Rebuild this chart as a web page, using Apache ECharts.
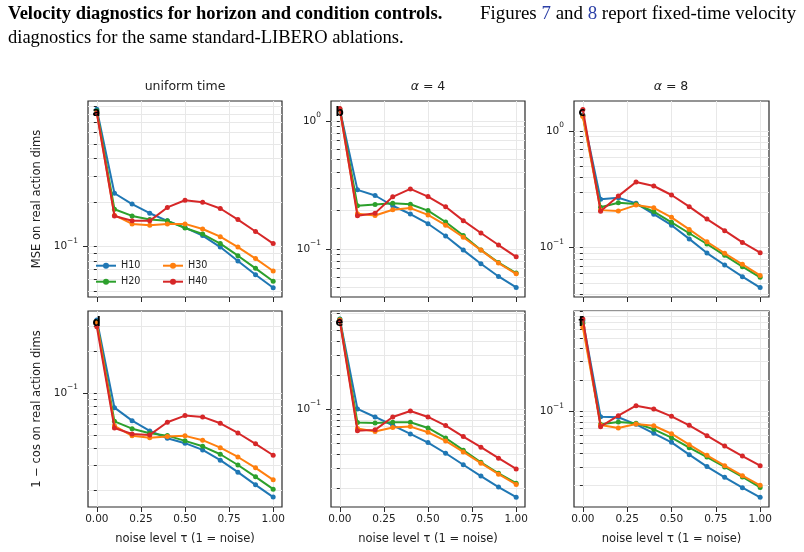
<!DOCTYPE html>
<html>
<head>
<meta charset="utf-8">
<script src="https://cdn.jsdelivr.net/npm/echarts@6/dist/echarts.min.js"></script>
<style>
html, body { margin: 0; padding: 0; background: #fff; }
#chart { width: 804px; height: 552px; }
</style>
</head>
<body>
<div id="chart"></div>
<script>
// noise level on the x axis
var tau = [0, 0.1, 0.2, 0.3, 0.4, 0.5, 0.6, 0.7, 0.8, 0.9, 1.0];
var horizons = ['H10', 'H20', 'H30', 'H40'];
var xTicks = [0, 0.25, 0.5, 0.75, 1];
var yMajor = [0.01, 0.1, 1];
var yMinor = [0.02, 0.03, 0.04, 0.05, 0.06, 0.07, 0.08, 0.09,
              0.2, 0.3, 0.4, 0.5, 0.6, 0.7, 0.8, 0.9, 2, 3];
var colTitles = ['uniform time', '{i|α} = 4', '{i|α} = 8'];
var rowNames = ['MSE on real action dims', '1 \u2212 cos on real action dims'];
var letters = ['a', 'b', 'c', 'd', 'e', 'f'];

// a: MSE, uniform time
var aH10 = [0.86, 0.231, 0.195, 0.169, 0.150, 0.135, 0.119, 0.0995, 0.080, 0.0645, 0.0526];
var aH20 = [0.84, 0.180, 0.162, 0.153, 0.150, 0.134, 0.122, 0.105, 0.0869, 0.0713, 0.0582];
var aH30 = [0.82, 0.164, 0.143, 0.140, 0.143, 0.143, 0.132, 0.117, 0.0995, 0.083, 0.0684];
var aH40 = [0.81, 0.162, 0.150, 0.150, 0.185, 0.207, 0.201, 0.182, 0.153, 0.127, 0.105];
// b: MSE, alpha = 4
var bH10 = [1.23, 0.289, 0.261, 0.217, 0.187, 0.157, 0.126, 0.0977, 0.0764, 0.0608, 0.0499];
var bH20 = [1.24, 0.217, 0.222, 0.227, 0.223, 0.199, 0.162, 0.127, 0.098, 0.078, 0.0646];
var bH30 = [1.22, 0.188, 0.182, 0.202, 0.208, 0.184, 0.153, 0.123, 0.0977, 0.0773, 0.0638];
var bH40 = [1.25, 0.181, 0.190, 0.255, 0.294, 0.256, 0.213, 0.166, 0.133, 0.107, 0.0866];
// c: MSE, alpha = 8
var cH10 = [1.37, 0.260, 0.268, 0.240, 0.194, 0.156, 0.119, 0.090, 0.0711, 0.0565, 0.0455];
var cH20 = [1.35, 0.222, 0.243, 0.237, 0.204, 0.165, 0.133, 0.1076, 0.086, 0.0687, 0.0557];
var cH30 = [1.33, 0.210, 0.206, 0.232, 0.220, 0.182, 0.1436, 0.1125, 0.0895, 0.0720, 0.0579];
var cH40 = [1.53, 0.205, 0.277, 0.366, 0.338, 0.283, 0.225, 0.176, 0.140, 0.111, 0.0906];
// d: 1 - cos, uniform time
var dH10 = [0.335, 0.0784, 0.0632, 0.0533, 0.0472, 0.0435, 0.0389, 0.0328, 0.0269, 0.0218, 0.0178];
var dH20 = [0.324, 0.0625, 0.0553, 0.0513, 0.0493, 0.0452, 0.0413, 0.0362, 0.0303, 0.0249, 0.0203];
var dH30 = [0.321, 0.058, 0.0491, 0.0475, 0.0485, 0.0491, 0.0457, 0.0404, 0.0346, 0.0289, 0.0237];
var dH40 = [0.300, 0.056, 0.0507, 0.0499, 0.0615, 0.0687, 0.0672, 0.0605, 0.0515, 0.043, 0.0356];
// e: 1 - cos, alpha = 4
var eH10 = [0.622, 0.100, 0.0849, 0.0717, 0.0601, 0.0504, 0.0406, 0.0321, 0.0255, 0.0204, 0.0166];
var eH20 = [0.620, 0.0757, 0.0752, 0.0762, 0.0762, 0.0679, 0.0554, 0.0432, 0.0338, 0.027, 0.0221];
var eH30 = [0.610, 0.067, 0.0631, 0.0684, 0.0698, 0.0622, 0.0522, 0.0417, 0.0332, 0.0265, 0.0215];
var eH40 = [0.601, 0.064, 0.0653, 0.0849, 0.096, 0.0849, 0.0713, 0.0570, 0.0459, 0.0367, 0.0295];
// f: 1 - cos, alpha = 8
var fH10 = [0.731, 0.0897, 0.0885, 0.0759, 0.0623, 0.0512, 0.0391, 0.0301, 0.0238, 0.019, 0.0154];
var fH20 = [0.692, 0.0759, 0.0798, 0.0776, 0.068, 0.0567, 0.0455, 0.0371, 0.0299, 0.024, 0.0191];
var fH30 = [0.634, 0.0748, 0.070, 0.0764, 0.0736, 0.0618, 0.0486, 0.0385, 0.0307, 0.0247, 0.020];
var fH40 = [0.759, 0.0721, 0.0916, 0.114, 0.106, 0.0904, 0.0743, 0.0592, 0.0472, 0.0379, 0.0307];

// y ranges
var yMins = [0.0455, 0.042, 0.0378, 0.0151, 0.0136, 0.01245];
var yMaxs = [0.98, 1.43, 1.81, 0.389, 0.733, 0.904];

var panelData = [
  [aH10, aH20, aH30, aH40],
  [bH10, bH20, bH30, bH40],
  [cH10, cH20, cH30, cH40],
  [dH10, dH20, dH30, dH40],
  [eH10, eH20, eH30, eH40],
  [fH10, fH20, fH30, fH40]
];

var colors = ['#1f77b4', '#2ca02c', '#ff7f0e', '#d62728'];
var lefts = [88, 331, 574];
var tops = [101, 311];
var FONT = 'DejaVu Sans';
var ink = '#222222';
var spine = '#2a2a2a';
var gridColor = '#e8e8e8';

var grids = [], xAxes = [], yAxes = [], series = [], graphics = [];

for (var p = 0; p < 6; p++) {
  var col = p % 3, row = Math.floor(p / 3);
  var bottom = row === 1;
  grids.push({
    left: lefts[col], top: tops[row], width: col === 2 ? 195 : 194, height: 196,
    show: true, borderColor: spine, borderWidth: 1.2, backgroundColor: 'transparent'
  });
  xAxes.push({
    type: 'value', gridIndex: p, min: -0.05, max: 1.05,
    axisLine: { show: false },
    axisTick: { show: true, length: 5, customValues: xTicks, lineStyle: { color: spine, width: 1 } },
    axisLabel: {
      show: bottom, customValues: xTicks, margin: 7,
      fontFamily: FONT, fontSize: 10.5, color: ink,
      formatter: function (v) { return v.toFixed(2); }
    },
    splitLine: { show: true, lineStyle: { color: gridColor, width: 1 } },
    name: bottom ? 'noise level \u03c4 (1 = noise)' : '',
    nameLocation: 'middle', nameGap: 26,
    nameTextStyle: { fontFamily: FONT, fontSize: 11.5, color: ink }
  });
  // minor ticks + grid lines on every decade step
  yAxes.push({
    type: 'log', gridIndex: p, min: yMins[p], max: yMaxs[p], position: 'left',
    axisLine: { show: false },
    axisTick: { show: true, length: 3, customValues: yMajor.concat(yMinor), lineStyle: { color: spine, width: 1 } },
    axisLabel: { show: false },
    splitLine: { show: true, lineStyle: { color: gridColor, width: 1 } }
  });
  // major ticks and labels
  yAxes.push({
    type: 'log', gridIndex: p, min: yMins[p], max: yMaxs[p], position: 'left', offset: 0,
    axisLine: { show: false },
    axisTick: { show: true, length: 5, customValues: yMajor, lineStyle: { color: spine, width: 1 } },
    axisLabel: {
      customValues: yMajor, margin: 10, color: ink, padding: [0, 0, 4, 0],
      formatter: function (v) {
        var e = Math.round(Math.log(v) / Math.LN10);
        return '{b|10}{s|' + (e < 0 ? '\u2212' + (-e) : e) + '}';
      },
      rich: {
        b: { fontFamily: FONT, fontSize: 10.5, color: ink, lineHeight: 15, verticalAlign: 'bottom' },
        s: { fontFamily: FONT, fontSize: 7.4, color: ink, lineHeight: 15, verticalAlign: 'top' }
      }
    },
    splitLine: { show: false },
    name: col === 0 ? rowNames[row] : '',
    nameLocation: 'middle', nameGap: 45,
    nameTextStyle: { fontFamily: FONT, fontSize: 11.5, color: ink }
  });

  for (var h = 0; h < 4; h++) {
    var vals = panelData[p][h];
    series.push({
      type: 'line', name: horizons[h], xAxisIndex: p, yAxisIndex: 2 * p,
      data: tau.map(function (t, k) { return [t, vals[k]]; }),
      symbol: 'circle', symbolSize: 5, showAllSymbol: true,
      lineStyle: { width: 2, color: colors[h] },
      itemStyle: { color: colors[h] },
      z: 2 + h, emphasis: { disabled: true }, silent: true
    });
  }

  graphics.push({
    type: 'text', x: lefts[col] + 4.5, y: tops[row] + 12.5, z: 100,
    style: { text: letters[p], font: 'bold 11.5px "DejaVu Sans"', fill: '#000', verticalAlign: 'middle' }
  });
}

// column titles
for (var c = 0; c < 3; c++) {
  graphics.push({
    type: 'text', x: lefts[c] + 97, y: 87,
    style: {
      text: colTitles[c], align: 'center', verticalAlign: 'middle',
      font: '12.5px "DejaVu Sans"', fill: ink,
      rich: { i: { font: 'italic 12.5px "DejaVu Sans"', fill: ink } }
    }
  });
}

// paragraph text above the figure
graphics.push({
  type: 'text', x: 8, y: 14,
  style: { text: 'Velocity diagnostics for horizon and condition controls.', font: 'bold 18.5px "Liberation Serif"', fill: '#000', verticalAlign: 'middle' }
});
graphics.push({
  type: 'text', x: 480, y: 14, scaleX: 1.022,
  style: {
    text: 'Figures {l|7} and {l|8} report fixed-time velocity', verticalAlign: 'middle',
    font: '18.5px "Liberation Serif"', fill: '#000',
    rich: { l: { font: '18.5px "Liberation Serif"', fill: '#2b3fa6' } }
  }
});
graphics.push({
  type: 'text', x: 8, y: 38,
  style: { text: 'diagnostics for the same standard-LIBERO ablations.', font: '18.5px "Liberation Serif"', fill: '#000', verticalAlign: 'middle' }
});

var legendBase = {
  orient: 'vertical', top: 260.7, itemWidth: 20, itemHeight: 7.5, itemGap: 6,
  selectedMode: false, padding: 0,
  textStyle: { fontFamily: FONT, fontSize: 9.6, lineHeight: 10, color: ink }
};

var option = {
  animation: false,
  backgroundColor: '#fff',
  grid: grids,
  xAxis: xAxes,
  yAxis: yAxes,
  legend: [
    Object.assign({}, legendBase, { left: 95, data: ['H10', 'H20'] }),
    Object.assign({}, legendBase, { left: 162, data: ['H30', 'H40'] })
  ],
  graphic: graphics,
  series: series
};

var chart = echarts.init(document.getElementById('chart'));
chart.setOption(option);
</script>
</body>
</html>
